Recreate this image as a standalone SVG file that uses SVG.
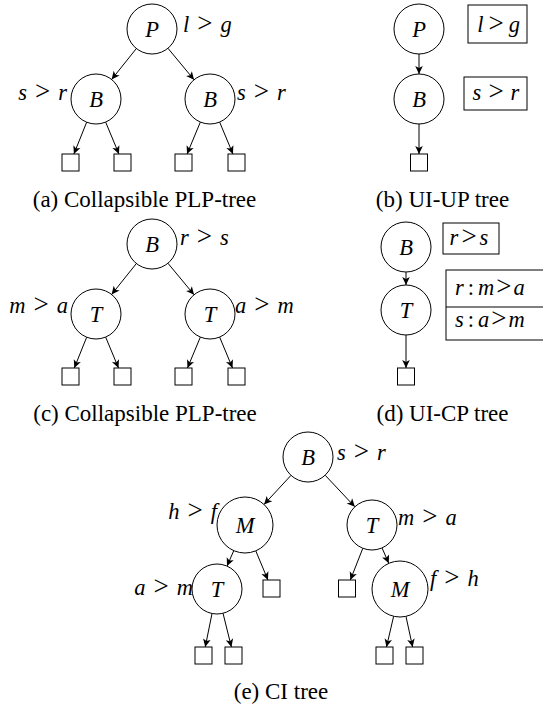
<svg xmlns="http://www.w3.org/2000/svg" width="543" height="706" viewBox="0 0 543 706">
<defs>
<marker id="ah" viewBox="-9 -5 10 10" refX="0" refY="0" markerWidth="10" markerHeight="10" markerUnits="userSpaceOnUse" orient="auto">
<path d="M0,0 L-8,-3.8 L-6,0 L-8,3.8 Z" fill="#000"/>
</marker>
<style>
.n circle {fill:#fff; stroke:#000; stroke-width:1}
.leaf {fill:#fff; stroke:#000; stroke-width:1}
.box {fill:none; stroke:#000; stroke-width:1}
.e line {stroke:#000; stroke-width:1; marker-end:url(#ah)}
text {font-family:"Liberation Serif", serif; fill:#000}
.nl {font-size:22.5px; font-style:italic; text-anchor:middle}
.m {font-size:22.5px}
.i {font-style:italic}
.g {font-size:27px}
.end {text-anchor:end}
.mid {text-anchor:middle}
.cap {font-size:23px; text-anchor:middle}
</style>
</defs>
<rect width="543" height="706" fill="#fff"/>

<g id="connectors" class="e">
<line x1="136.38" y1="48.52" x2="111.62" y2="79.48"/>
<line x1="167.95" y1="48.25" x2="194.05" y2="79.75"/>
<line x1="86.68" y1="122.2" x2="73.91" y2="154"/>
<line x1="105.63" y1="122.07" x2="118.95" y2="154"/>
<line x1="200.37" y1="122.07" x2="187.05" y2="154"/>
<line x1="219.63" y1="122.07" x2="232.95" y2="154"/>

<line x1="419" y1="54" x2="419" y2="74"/>
<line x1="419" y1="124" x2="419" y2="154"/>

<line x1="136.38" y1="263.52" x2="111.62" y2="294.48"/>
<line x1="167.95" y1="263.25" x2="194.05" y2="294.75"/>
<line x1="86.68" y1="337.2" x2="74.31" y2="368"/>
<line x1="105.63" y1="337.07" x2="118.53" y2="368"/>
<line x1="200.37" y1="337.07" x2="187.47" y2="368"/>
<line x1="219.63" y1="337.07" x2="232.53" y2="368"/>

<line x1="406" y1="272" x2="406" y2="285"/>
<line x1="406" y1="335" x2="406" y2="368"/>

<line x1="291.01" y1="475.34" x2="264.03" y2="504.46"/>
<line x1="325.13" y1="475.2" x2="354.87" y2="506.8"/>
<line x1="233.78" y1="550.65" x2="227.02" y2="566.1"/>
<line x1="255.78" y1="550.84" x2="267.95" y2="580"/>
<line x1="362.84" y1="548.26" x2="350.35" y2="580"/>
<line x1="382.02" y1="547.9" x2="388.78" y2="563.35"/>
<line x1="212.03" y1="613.5" x2="205.23" y2="647"/>
<line x1="223.02" y1="613.26" x2="231.39" y2="647"/>
<line x1="393.64" y1="616.27" x2="386.48" y2="647"/>
<line x1="405.96" y1="616.36" x2="412.64" y2="647"/>
</g>

<!-- (a) -->
<g id="a-P" class="n"><circle cx="152" cy="29" r="25"/><text class="nl" x="152" y="36.5">P</text>
<text class="m" x="183" y="32"><tspan class="i">l</tspan><tspan class="g" dx="8">&gt;</tspan><tspan class="i" dx="8">g</tspan></text></g>
<g id="a-B1" class="n"><circle cx="96" cy="99" r="25"/><text class="nl" x="96" y="106.5">B</text>
<text class="m end" x="67" y="100"><tspan class="i">s</tspan><tspan class="g" dx="8">&gt;</tspan><tspan class="i" dx="8">r</tspan></text></g>
<g id="a-B2" class="n"><circle cx="210" cy="99" r="25"/><text class="nl" x="210" y="106.5">B</text>
<text class="m" x="237" y="100"><tspan class="i">s</tspan><tspan class="g" dx="8">&gt;</tspan><tspan class="i" dx="8">r</tspan></text></g>
<g id="a-L1"><rect class="leaf" x="62" y="154" width="17" height="17"/></g>
<g id="a-L2"><rect class="leaf" x="114" y="154" width="17" height="17"/></g>
<g id="a-L3"><rect class="leaf" x="175" y="154" width="17" height="17"/></g>
<g id="a-L4"><rect class="leaf" x="228" y="154" width="17" height="17"/></g>
<text class="cap" x="144.5" y="207">(a) Collapsible PLP-tree</text>

<!-- (b) -->
<g id="b-P" class="n"><circle cx="419" cy="29" r="25"/><text class="nl" x="419" y="36.5">P</text></g>
<g id="b-B" class="n"><circle cx="419" cy="99" r="25"/><text class="nl" x="419" y="106.5">B</text></g>
<g id="b-L1"><rect class="leaf" x="410.5" y="154" width="17" height="17"/></g>
<g id="b-box1"><rect class="box" x="468" y="5" width="59" height="38"/>
<text class="m mid" x="498.5" y="32"><tspan class="i">l</tspan><tspan class="g" dx="5">&gt;</tspan><tspan class="i" dx="5">g</tspan></text></g>
<g id="b-box2"><rect class="box" x="464" y="77" width="63" height="33"/>
<text class="m mid" x="496" y="100"><tspan class="i">s</tspan><tspan class="g" dx="7">&gt;</tspan><tspan class="i" dx="7">r</tspan></text></g>
<text class="cap" x="442.5" y="207">(b) UI-UP tree</text>

<!-- (c) -->
<g id="c-B" class="n"><circle cx="152" cy="244" r="25"/><text class="nl" x="152" y="251.5">B</text>
<text class="m" x="180" y="245"><tspan class="i">r</tspan><tspan class="g" dx="8">&gt;</tspan><tspan class="i" dx="8">s</tspan></text></g>
<g id="c-T1" class="n"><circle cx="96" cy="314" r="25"/><text class="nl" x="96" y="321.5">T</text>
<text class="m end" x="68" y="313"><tspan class="i">m</tspan><tspan class="g" dx="8">&gt;</tspan><tspan class="i" dx="8">a</tspan></text></g>
<g id="c-T2" class="n"><circle cx="210" cy="314" r="25"/><text class="nl" x="210" y="321.5">T</text>
<text class="m" x="235" y="313"><tspan class="i">a</tspan><tspan class="g" dx="8">&gt;</tspan><tspan class="i" dx="8">m</tspan></text></g>
<g id="c-L1"><rect class="leaf" x="62" y="368" width="17" height="17"/></g>
<g id="c-L2"><rect class="leaf" x="114" y="368" width="17" height="17"/></g>
<g id="c-L3"><rect class="leaf" x="175" y="368" width="17" height="17"/></g>
<g id="c-L4"><rect class="leaf" x="228" y="368" width="17" height="17"/></g>
<text class="cap" x="145" y="421">(c) Collapsible PLP-tree</text>

<!-- (d) -->
<g id="d-B" class="n"><circle cx="406" cy="247" r="25"/><text class="nl" x="406" y="254.5">B</text></g>
<g id="d-T" class="n"><circle cx="406" cy="310" r="25"/><text class="nl" x="406" y="317.5">T</text></g>
<g id="d-L1"><rect class="leaf" x="397.5" y="368" width="17" height="17"/></g>
<g id="d-box1"><rect class="box" x="443" y="223" width="56" height="31"/>
<text class="m mid" x="469" y="245"><tspan class="i">r</tspan><tspan class="g" dx="3">&gt;</tspan><tspan class="i" dx="3">s</tspan></text></g>
<g id="d-box2"><rect class="box" x="446" y="270" width="110" height="70"/>
<line x1="446" y1="307" x2="543" y2="307" stroke="#000" stroke-width="1"/>
<text class="m" x="455" y="295"><tspan class="i">r</tspan><tspan dx="4">:</tspan><tspan class="i" dx="4">m</tspan><tspan class="g" dx="2">&gt;</tspan><tspan class="i" dx="2">a</tspan></text>
<text class="m" x="455" y="327"><tspan class="i">s</tspan><tspan dx="4">:</tspan><tspan class="i" dx="4">a</tspan><tspan class="g" dx="2">&gt;</tspan><tspan class="i" dx="2">m</tspan></text></g>
<text class="cap" x="442.5" y="421">(d) UI-CP tree</text>

<!-- (e) -->
<g id="e-B" class="n"><circle cx="308" cy="457" r="25"/><text class="nl" x="308" y="464.5">B</text>
<text class="m" x="337" y="460"><tspan class="i">s</tspan><tspan class="g" dx="8">&gt;</tspan><tspan class="i" dx="8">r</tspan></text></g>
<g id="e-M1" class="n"><circle cx="245" cy="525" r="28"/><text class="nl" x="245" y="532.5">M</text>
<text class="m end" x="217" y="519"><tspan class="i">h</tspan><tspan class="g" dx="8">&gt;</tspan><tspan class="i" dx="8">f</tspan></text></g>
<g id="e-T2" class="n"><circle cx="372" cy="525" r="25"/><text class="nl" x="372" y="532.5">T</text>
<text class="m" x="398" y="525"><tspan class="i">m</tspan><tspan class="g" dx="8">&gt;</tspan><tspan class="i" dx="8">a</tspan></text></g>
<g id="e-T1" class="n"><circle cx="217" cy="589" r="25"/><text class="nl" x="217" y="596.5">T</text>
<text class="m end" x="193" y="595"><tspan class="i">a</tspan><tspan class="g" dx="8">&gt;</tspan><tspan class="i" dx="8">m</tspan></text></g>
<g id="e-M2" class="n"><circle cx="400" cy="589" r="28"/><text class="nl" x="400" y="596.5">M</text>
<text class="m" x="430" y="586"><tspan class="i">f</tspan><tspan class="g" dx="8">&gt;</tspan><tspan class="i" dx="8">h</tspan></text></g>
<g id="e-L1"><rect class="leaf" x="263" y="580" width="17" height="17"/></g>
<g id="e-L2"><rect class="leaf" x="338.5" y="580" width="17" height="17"/></g>
<g id="e-L3"><rect class="leaf" x="195" y="647" width="17" height="17"/></g>
<g id="e-L4"><rect class="leaf" x="225" y="647" width="17" height="17"/></g>
<g id="e-L5"><rect class="leaf" x="376" y="647" width="17" height="17"/></g>
<g id="e-L6"><rect class="leaf" x="406" y="647" width="17" height="17"/></g>
<text class="cap" x="281" y="699">(e) CI tree</text>
</svg>
